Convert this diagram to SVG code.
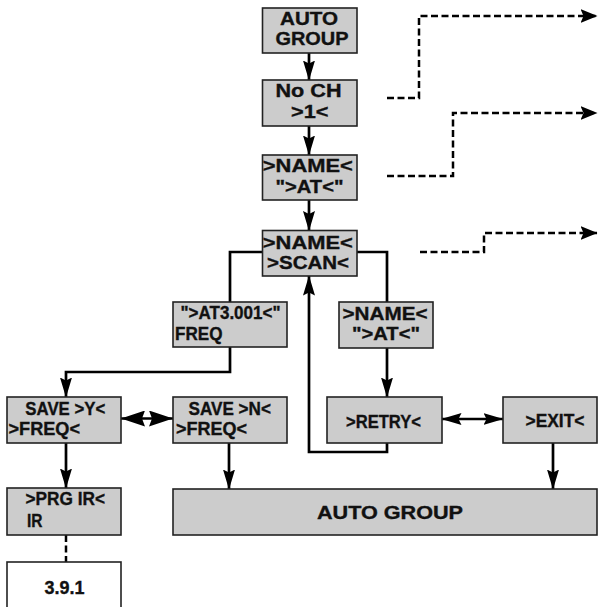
<svg xmlns="http://www.w3.org/2000/svg" width="598" height="607" viewBox="0 0 598 607">
<style>
.box{fill:#cccccc;stroke:#222;stroke-width:1.6}
.wbox{fill:#ffffff;stroke:#222;stroke-width:1.6}
.t{font-family:"Liberation Sans",Arial,Helvetica,sans-serif;font-weight:bold;font-size:18px;fill:#111;stroke:#111;stroke-width:0.35}
.ln{fill:none;stroke:#000;stroke-width:2.7}
.dl{fill:none;stroke:#000;stroke-width:2.5;stroke-dasharray:7 3.5}
</style>
<defs>
<marker id="ah" viewBox="0 0 20 12" refX="19.5" refY="6" markerWidth="20" markerHeight="12" markerUnits="userSpaceOnUse" orient="auto-start-reverse">
<path d="M0,0 L20,6 L0,12 L3,6 Z" fill="#000"/>
</marker>
<marker id="ahd" viewBox="0 0 17 14" refX="16.5" refY="7" markerWidth="17" markerHeight="14" markerUnits="userSpaceOnUse" orient="auto">
<path d="M0,0 L17,7 L0,14 L3,7 Z" fill="#000"/>
</marker>
<marker id="ahb" viewBox="0 0 24 16" refX="24" refY="8" markerWidth="24" markerHeight="16" markerUnits="userSpaceOnUse" orient="auto-start-reverse">
<path d="M0,0 L24,8 L0,16 L3,8 Z" fill="#000"/>
</marker>
</defs>

<g id="connectors">
<line class="ln" x1="309" y1="53" x2="309" y2="80" marker-end="url(#ah)"/>
<line class="ln" x1="309" y1="126" x2="309" y2="155" marker-end="url(#ah)"/>
<line class="ln" x1="309" y1="200" x2="309" y2="230.5" marker-end="url(#ah)"/>
<polyline class="ln" points="262.5,252 230,252 230,302"/>
<polyline class="ln" points="230,347 230,372 66,372 66,397" marker-end="url(#ah)"/>
<polyline class="ln" points="357,252 387,252 387,302"/>
<line class="ln" x1="387" y1="348" x2="387" y2="397" marker-end="url(#ah)"/>
<polyline class="ln" points="387,443 387,452 309,452 309,276" marker-end="url(#ah)"/>
<line class="ln" x1="121" y1="418.5" x2="173" y2="418.5" marker-start="url(#ahb)" marker-end="url(#ahb)"/>
<line class="ln" x1="442" y1="419" x2="503" y2="419" marker-start="url(#ah)" marker-end="url(#ah)"/>
<line class="ln" x1="66" y1="443" x2="66" y2="488" marker-end="url(#ah)"/>
<line class="ln" x1="229" y1="443" x2="229" y2="489" marker-end="url(#ah)"/>
<line class="ln" x1="553" y1="443" x2="553" y2="489" marker-end="url(#ah)"/>
<line class="dl" x1="66" y1="535" x2="66" y2="562"/>
<polyline class="dl" points="387,98 419,98 419,16 597,16" marker-end="url(#ahd)"/>
<polyline class="dl" points="387,176 453,176 453,113 597,113" marker-end="url(#ahd)"/>
<polyline class="dl" points="420,252 484,252 484,233 597,233" marker-end="url(#ahd)"/>
</g>

<g id="auto-group-top">
<rect class="box" x="262.5" y="8" width="94.5" height="45"/>
<text class="t" x="280" y="24.5" textLength="58" lengthAdjust="spacingAndGlyphs">AUTO</text>
<text class="t" x="275.5" y="45" textLength="73" lengthAdjust="spacingAndGlyphs">GROUP</text>
</g>

<g id="no-ch">
<rect class="box" x="262.5" y="80" width="94.5" height="46"/>
<text class="t" x="275.5" y="97" textLength="66" lengthAdjust="spacingAndGlyphs">No CH</text>
<text class="t" x="291" y="118" textLength="37.5" lengthAdjust="spacingAndGlyphs">&gt;1&lt;</text>
</g>

<g id="name-at">
<rect class="box" x="262.5" y="155" width="94.5" height="45"/>
<text class="t" x="262.8" y="172" textLength="90" lengthAdjust="spacingAndGlyphs">&gt;NAME&lt;</text>
<text class="t" x="275.5" y="192.5" textLength="68" lengthAdjust="spacingAndGlyphs">"&gt;AT&lt;"</text>
</g>

<g id="name-scan">
<rect class="box" x="262.5" y="230.5" width="94.5" height="45.5"/>
<text class="t" x="262.8" y="248.5" textLength="90" lengthAdjust="spacingAndGlyphs">&gt;NAME&lt;</text>
<text class="t" x="267" y="268.5" textLength="82" lengthAdjust="spacingAndGlyphs">&gt;SCAN&lt;</text>
</g>

<g id="at-freq">
<rect class="box" x="173" y="302" width="114" height="45"/>
<text class="t" x="180.5" y="319" textLength="100" lengthAdjust="spacingAndGlyphs">"&gt;AT3.001&lt;"</text>
<text class="t" x="175" y="340" textLength="47.5" lengthAdjust="spacingAndGlyphs">FREQ</text>
</g>

<g id="name-at-2">
<rect class="box" x="339" y="302" width="94" height="46"/>
<text class="t" x="342.5" y="319.5" textLength="85" lengthAdjust="spacingAndGlyphs">&gt;NAME&lt;</text>
<text class="t" x="352" y="339.5" textLength="68" lengthAdjust="spacingAndGlyphs">"&gt;AT&lt;"</text>
</g>

<g id="save-y">
<rect class="box" x="7" y="397" width="114" height="46"/>
<text class="t" x="25.3" y="414.5" textLength="80" lengthAdjust="spacingAndGlyphs">SAVE &gt;Y&lt;</text>
<text class="t" x="8.5" y="435" textLength="71.5" lengthAdjust="spacingAndGlyphs">&gt;FREQ&lt;</text>
</g>

<g id="save-n">
<rect class="box" x="173" y="397" width="114" height="46"/>
<text class="t" x="188.5" y="414.5" textLength="82.5" lengthAdjust="spacingAndGlyphs">SAVE &gt;N&lt;</text>
<text class="t" x="176" y="435" textLength="71" lengthAdjust="spacingAndGlyphs">&gt;FREQ&lt;</text>
</g>

<g id="retry">
<rect class="box" x="327" y="397" width="115" height="46"/>
<text class="t" x="346" y="427.5" textLength="75" lengthAdjust="spacingAndGlyphs">&gt;RETRY&lt;</text>
</g>

<g id="exit">
<rect class="box" x="503" y="397" width="94" height="46"/>
<text class="t" x="525.5" y="427" textLength="59" lengthAdjust="spacingAndGlyphs">&gt;EXIT&lt;</text>
</g>

<g id="prg-ir">
<rect class="box" x="7" y="488" width="114" height="47"/>
<text class="t" x="25.5" y="505" textLength="79.5" lengthAdjust="spacingAndGlyphs">&gt;PRG IR&lt;</text>
<text class="t" x="27" y="526.5" textLength="15.5" lengthAdjust="spacingAndGlyphs">IR</text>
</g>

<g id="ref-391">
<rect class="wbox" x="7" y="562" width="114" height="50"/>
<text class="t" x="44.5" y="593.5" textLength="40" lengthAdjust="spacingAndGlyphs">3.9.1</text>
</g>

<g id="auto-group-bottom">
<rect class="box" x="173" y="489" width="424" height="46"/>
<text class="t" x="317" y="518.5" textLength="146" lengthAdjust="spacingAndGlyphs">AUTO GROUP</text>
</g>
</svg>
